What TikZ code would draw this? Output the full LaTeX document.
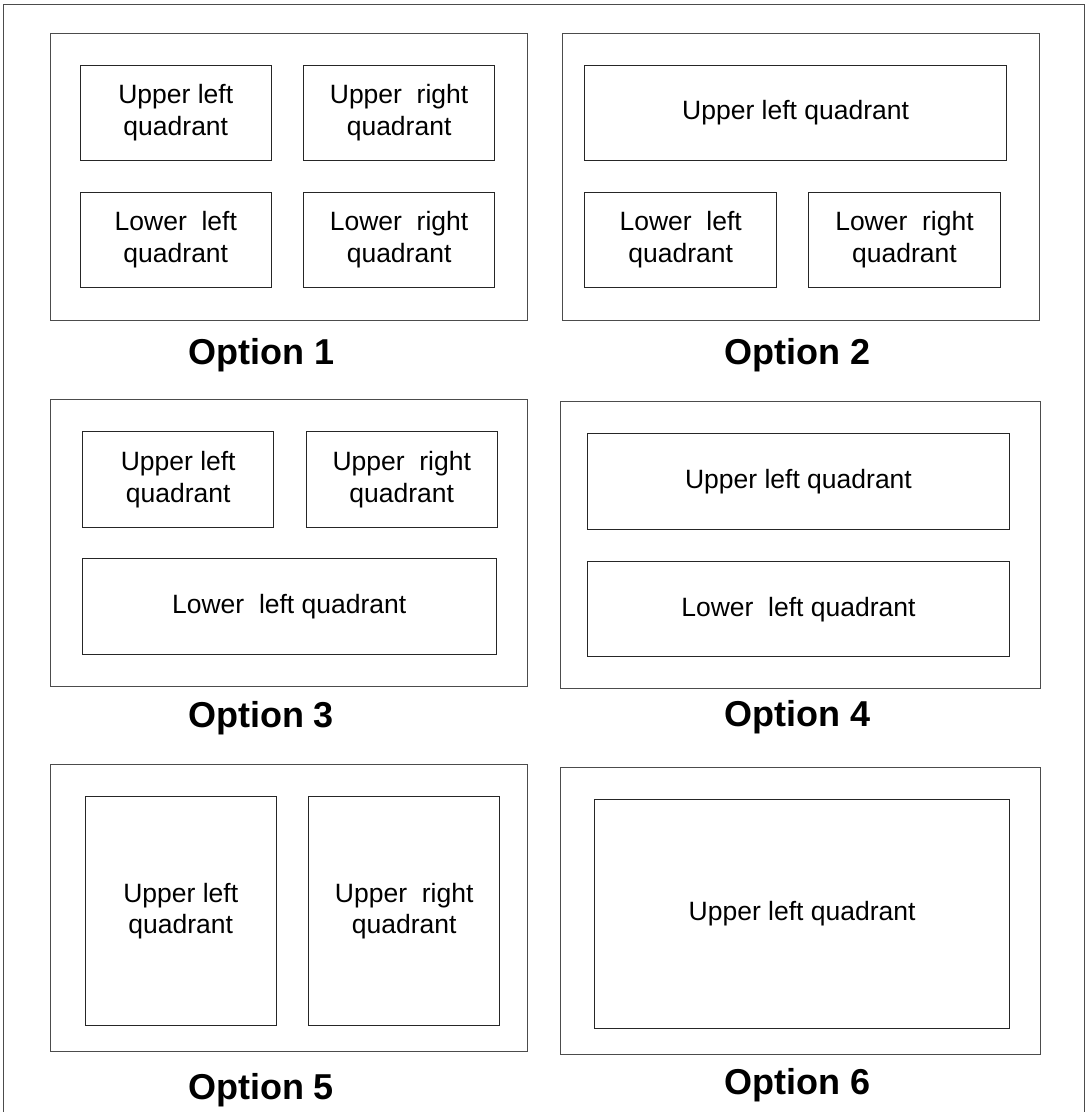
\documentclass[tikz,border=0pt]{standalone}
\usepackage{fontspec}
\setmainfont{Liberation Sans}
\tikzset{
  x=1pt,
  y=-1pt,
}
\tikzstyle{every node}=[font=\fontsize{26.5}{31.8}\selectfont]
\tikzstyle{panel}=[draw=black!70,line width=1pt,inner sep=0pt,outer sep=0pt,minimum width=477pt,minimum height=287pt]
\tikzstyle{quad}=[draw=black!85,line width=1pt,inner sep=0pt,align=center,minimum width=191.5pt,minimum height=95.5pt]
\tikzstyle{widequad}=[quad,minimum width=422pt]
\tikzstyle{tallquad}=[quad,minimum height=229pt]
\tikzstyle{optlabel}=[anchor=base,font=\fontsize{36}{43}\selectfont\bfseries]

\begin{document}
\begin{tikzpicture}
        \useasboundingbox (0,0) rectangle (1089,1112);
        \draw[black!70,line width=1pt] (3.5,1120) -- (3.5,4) -- (1084.5,4) -- (1084.5,1120);

        \node[panel] (panel1) at (288.75,176.5) {};
        \node[quad] (ul1) at (175.8,113) {Upper left\\quadrant};
        \node[quad] (ur1) at (399.1,113) {Upper~~right\\quadrant};
        \node[quad] (ll1) at (175.8,240) {Lower~~left\\quadrant};
        \node[quad] (lr1) at (399.1,240) {Lower~~right\\quadrant};
        \node[optlabel] (opt1) at (261.5,364) {Option 1};

        \node[panel] (panel2) at (801.25,176.5) {};
        \node[widequad] (ul2) at (795.6,112.8) {Upper left quadrant};
        \node[quad] (ll2) at (680.7,240) {Lower~~left\\quadrant};
        \node[quad] (lr2) at (904.5,240) {Lower~~right\\quadrant};
        \node[optlabel] (opt2) at (797.5,364) {Option 2};

        \node[panel] (panel3) at (288.75,542.5) {};
        \node[quad] (ul3) at (178.2,479.3) {Upper left\\quadrant};
        \node[quad] (ur3) at (401.75,479.3) {Upper~~right\\quadrant};
        \node[quad,minimum width=413.5pt] (ll3) at (289.25,606.7) {Lower~~left quadrant};
        \node[optlabel] (opt3) at (261,727.5) {Option 3};

        \node[panel,minimum width=480pt] (panel4) at (800,545.2) {};
        \node[widequad] (ul4) at (798.45,481.3) {Upper left quadrant};
        \node[widequad] (ll4) at (798.45,609.2) {Lower~~left quadrant};
        \node[optlabel] (opt4) at (797.5,726) {Option 4};

        \node[panel] (panel5) at (288.75,908) {};
        \node[tallquad] (ul5) at (180.75,911.2) {Upper left\\quadrant};
        \node[tallquad] (ur5) at (404.2,911.2) {Upper~~right\\quadrant};
        \node[optlabel] (opt5) at (261,1099) {Option 5};

        \node[panel,minimum width=479.3pt] (panel6) at (800.35,910.7) {};
        \node[tallquad,minimum width=414.8pt] (ul6) at (802.1,913.8) {Upper left quadrant};
        \node[optlabel] (opt6) at (797.5,1094) {Option 6};
      \end{tikzpicture}
\end{document}
